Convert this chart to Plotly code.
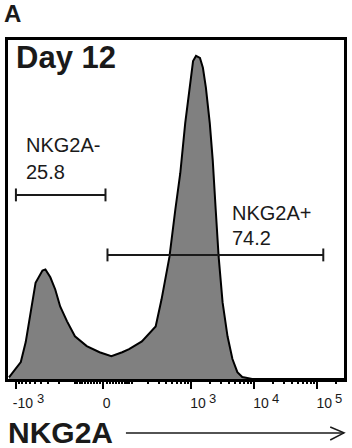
import numpy as np
import plotly.graph_objects as go

# Histogram (display channel 0-1024, % of max count)
channel = [3, 39, 54, 69, 84, 105, 114, 129, 144, 159, 180, 204, 240, 279, 315, 348, 369,
           408, 450, 468, 480, 492, 510, 525, 540, 555, 564, 573, 585, 594, 603, 615, 624,
           633, 642, 654, 669, 684, 699, 714, 744, 1024]
counts = [0.5, 5, 10.9, 19.6, 28.4, 32, 32.3, 30, 26.4, 21.4, 17, 12.6, 9.7, 7.9, 6.7, 7.9, 8.8,
          11.1, 15.5, 23.5, 29.3, 36, 50, 60.7, 75.4, 87, 93.8, 95.3, 94.7, 91.8, 86, 75.4, 64.5,
          50, 36, 22.6, 12.6, 5.9, 2, 0.6, 0, 0]

major_vals = [-1000, 0, 1000, 10000, 100000]
major_base = ["-10", "0&nbsp;&nbsp;", "10", "10", "10"]
major_exp = ["3", "", "3", "4", "5"]

gate_neg = [-1000, 6]        # fluorescence bounds
gate_pos = [12, 125000]
gate_neg_label = ["NKG2A-", "25.8"]
gate_pos_label = ["NKG2A+", "74.2"]


def to_channel(v):
    v = np.asarray(v, dtype=float)
    return 291 + np.sign(v) * 83.5 * np.arcsinh(np.abs(v) / 82.0)


minor_vals = []
for d in [10, 100, 1000, 10000, 100000]:
    for k in range(1, 10):
        minor_vals.append(k * d)
        if d <= 100:
            minor_vals.append(-k * d)
minor_vals = [m for m in minor_vals if m not in major_vals]

fig = go.Figure()
fig.add_trace(go.Scatter(x=channel, y=counts, mode="lines", fill="tozeroy",
                         fillcolor="#808080", line=dict(color="black", width=2),
                         hoverinfo="skip", showlegend=False))

ink = "#1a1a1a"
cap = 1.9
for (lo, hi), yv in [(gate_neg, 54.3), (gate_pos, 36.6)]:
    x0, x1 = to_channel([lo, hi])
    fig.add_trace(go.Scatter(x=[x0, x0, None, x0, x1, None, x1, x1],
                             y=[yv - cap, yv + cap, None, yv, yv, None, yv - cap, yv + cap],
                             mode="lines", line=dict(color=ink, width=2),
                             hoverinfo="skip", showlegend=False))

# invisible trace for minor tick axis
fig.add_trace(go.Scatter(x=[0], y=[0], xaxis="x2", mode="markers",
                         marker=dict(opacity=0), hoverinfo="skip", showlegend=False))

font = "Arial, Liberation Sans, sans-serif"
fig.update_layout(
    width=352, height=448,
    margin=dict(l=8, r=5, t=40, b=69),
    paper_bgcolor="white", plot_bgcolor="white",
    font=dict(family=font, color=ink),
    xaxis=dict(range=[0, 1024], showgrid=False, zeroline=False,
               showline=True, linewidth=3, linecolor="black", mirror=True,
               tickmode="array", tickvals=to_channel(major_vals).tolist(), ticktext=major_base,
               ticks="outside", ticklen=7, tickwidth=2, tickcolor="black",
               tickfont=dict(size=14, family=font, color=ink),
               ticklabelstandoff=2, ticklabelshift=7),
    xaxis2=dict(range=[0, 1024], overlaying="x", anchor="y", side="bottom",
                showgrid=False, zeroline=False, showline=False,
                tickmode="array", tickvals=to_channel(minor_vals).tolist(),
                showticklabels=False, ticks="outside", ticklen=4, tickwidth=1.5,
                tickcolor="black"),
    yaxis=dict(range=[0, 100], showgrid=False, zeroline=False, showticklabels=False,
               showline=True, linewidth=3, linecolor="black", mirror=True, ticks=""),
)

# exponents of tick labels
for v, e in zip(major_vals, major_exp):
    if not e:
        continue
    fig.add_annotation(text=e, x=float(to_channel(v)), xref="x", y=-0.058, yref="paper",
                       xshift=25 if v < 0 else 21, xanchor="center", yanchor="middle",
                       showarrow=False, font=dict(size=13, family=font, color=ink))

ann = [
    dict(text="<b>A</b>", x=-0.018, y=1.077, size=24),
    dict(text="<b>Day 12</b>", x=0.018, y=0.947, size=31),
    dict(text=gate_neg_label[0], x=0.048, y=0.690, size=20),
    dict(text=gate_neg_label[1], x=0.048, y=0.611, size=20),
    dict(text=gate_pos_label[0], x=0.662, y=0.490, size=20),
    dict(text=gate_pos_label[1], x=0.662, y=0.416, size=20),
    dict(text="<b>NKG2A</b>", x=-0.006, y=-0.158, size=30),
]
for a in ann:
    fig.add_annotation(text=a["text"], x=a["x"], y=a["y"], xref="paper", yref="paper",
                       xanchor="left", yanchor="middle", showarrow=False,
                       font=dict(size=a["size"], family=font, color=ink))

fig.add_shape(type="line", xref="paper", yref="paper", x0=0.351, x1=1.0, y0=-0.159, y1=-0.159,
              line=dict(color=ink, width=1.5))
fig.add_shape(type="path", xref="paper", yref="paper",
              path="M 0.959 -0.1416 L 1.0 -0.159 L 0.959 -0.1799",
              line=dict(color=ink, width=1.5))

fig.write_html("out.html")
